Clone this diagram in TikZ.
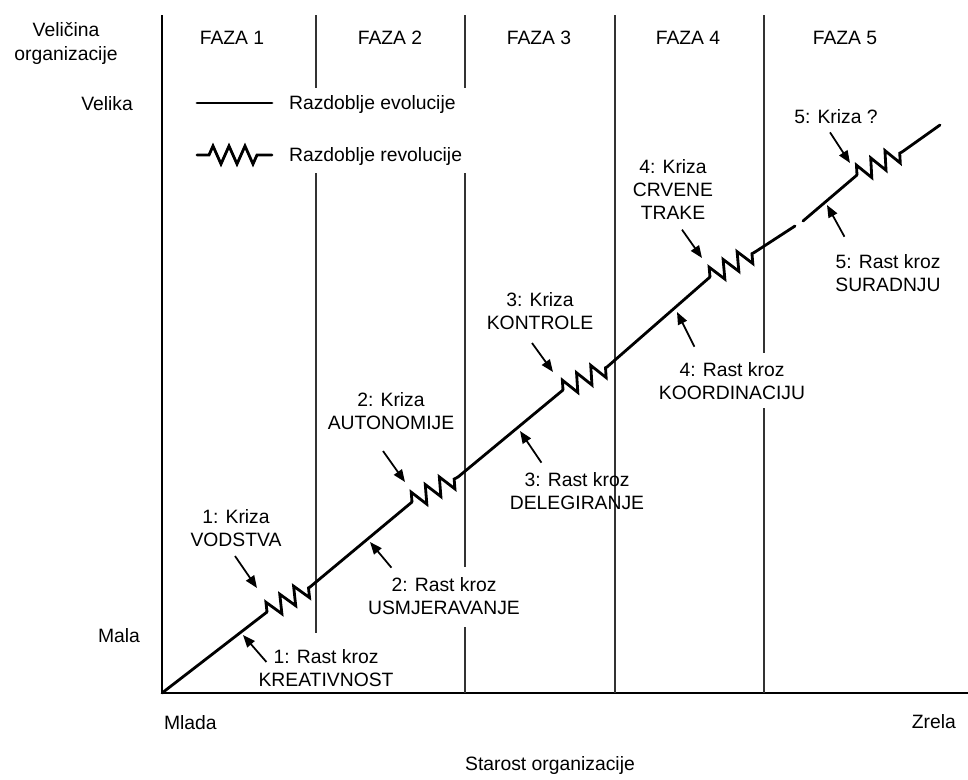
\documentclass[tikz,border=0pt]{standalone}
\usepackage{fontspec}
\setmainfont{Liberation Sans}
\usetikzlibrary{arrows.meta,positioning,decorations.pathmorphing}

\begin{document}
\begin{tikzpicture}[x=0.02cm,y=-0.02cm,
  lbl/.style={font=\fontsize{11}{13}\selectfont,inner sep=1pt,text height=8pt,text depth=2.5pt},
  evol/.style={line width=1.6pt,line cap=round},
  revol/.style={decorate,decoration={zigzag,segment length=0.32cm,amplitude=0.18cm}},
  faza/.style={line width=1pt,black!80},
  os/.style={line width=1.2pt},
  strel/.style={line width=1pt,-{Triangle[length=7pt,width=5.5pt]}}]%
\useasboundingbox (0,0) rectangle (968,779);%%
%%OSI
\draw[os] (162,15) -- (162,693) -- (968,693);%%
%%FAZE
\draw[faza] (316,15) -- (316,88) (316,173) -- (316,633);%%
\draw[faza] (465,15) -- (465,88) (465,173) -- (465,567) (465,627) -- (465,693);%%
\draw[faza] (615,15) -- (615,693);%%
\draw[faza] (764,15) -- (764,353) (764,408) -- (764,693);%%
\node[lbl] (faza1) at (232,40) {FAZA 1};%%
\node[lbl] (faza2) at (390,40) {FAZA 2};%%
\node[lbl] (faza3) at (539,40) {FAZA 3};%%
\node[lbl] (faza4) at (688,40) {FAZA 4};%%
\node[lbl] (faza5) at (845,40) {FAZA 5};%%
%%TEKST OSI
\node[lbl] (velicina) at (66,32) {Veličina};%%
\node[lbl,below=0.5pt of velicina] (organizacije) {organizacije};%%
\node[lbl,anchor=east] (velika) at (135,106) {Velika};%%
\node[lbl,anchor=east] (mala) at (142,638) {Mala};%%
\node[lbl,anchor=west] (mlada) at (162,725) {Mlada};%%
\node[lbl,anchor=east] (zrela) at (958,724) {Zrela};%%
\node[lbl] (starost) at (550,766) {Starost organizacije};%%
%%LEGENDA
\draw[evol] (197,103) -- (272,103);%%
\node[lbl,anchor=west] (evolucija) at (287,105) {Razdoblje evolucije};%%
\draw[evol,revol,decoration={pre length=0.24cm,post length=0.3cm}] (197,155) -- (272,155);%%
\node[lbl,anchor=west] (revolucija) at (287,157) {Razdoblje revolucije};%%
%%KRIVULJA
\coordinate (o) at (162,693);%%
\coordinate (z1s) at (267,612); \coordinate (z1e) at (310,587);%%
\coordinate (z2s) at (412,502); \coordinate (z2e) at (458,477);%%
\coordinate (z3s) at (563,390); \coordinate (z3e) at (607,367);%%
\coordinate (z4s) at (710,277); \coordinate (z4e) at (755,252);%%
\coordinate (prekid1) at (795,226); \coordinate (prekid2) at (803,221);%%
\coordinate (z5s) at (857,175); \coordinate (z5e) at (902,152);%%
\coordinate (kraj) at (940,125);%%
\draw[evol] (o) -- (z1s) (z1e) -- (z2s) (z2e) -- (z3s) (z3e) -- (z4s) (z4e) -- (prekid1) (prekid2) -- (z5s) (z5e) -- (kraj);%%
\draw[evol,revol] (z1s) -- (z1e);%%
\draw[evol,revol] (z2s) -- (z2e);%%
\draw[evol,revol] (z3s) -- (z3e);%%
\draw[evol,revol] (z4s) -- (z4e);%%
\draw[evol,revol] (z5s) -- (z5e);%%
%%KRIZE
\node[lbl] (kriza1) at (236,519) {1: Kriza};%%
\node[lbl,below=0pt of kriza1] (kriza1b) {VODSTVA};%%
\node[lbl] (kriza2) at (391,402) {2: Kriza};%%
\node[lbl,below=0pt of kriza2] (kriza2b) {AUTONOMIJE};%%
\node[lbl] (kriza3) at (540,302) {3: Kriza};%%
\node[lbl,below=0pt of kriza3] (kriza3b) {KONTROLE};%%
\node[lbl] (kriza4) at (673,169) {4: Kriza};%%
\node[lbl,below=0pt of kriza4] (kriza4b) {CRVENE};%%
\node[lbl,below=0pt of kriza4b] (kriza4c) {TRAKE};%%
\node[lbl] (kriza5) at (836,119) {5: Kriza ?};%%
\coordinate (c1) at (257,588); \coordinate (c2) at (405,482); \coordinate (c3) at (553,372);%%
\coordinate (c4) at (702,258); \coordinate (c5) at (850,163);%%
\draw[strel] ([shift={(-1,3)}]kriza1b.south) -- (c1);%%
\draw[strel] ([shift={(-8,15)}]kriza2b.south) -- (c2);%%
\draw[strel] ([shift={(-8,7)}]kriza3b.south) -- (c3);%%
\draw[strel] ([shift={(9,4)}]kriza4c.south) -- (c4);%%
\draw[strel] ([shift={(-6,2)}]kriza5.south) -- (c5);%%
%%RAST
\node[lbl] (rast1) at (326,659) {1: Rast kroz};%%
\node[lbl,below=0pt of rast1] (rast1b) {KREATIVNOST};%%
\node[lbl] (rast2) at (444,587) {2: Rast kroz};%%
\node[lbl,below=0pt of rast2] (rast2b) {USMJERAVANJE};%%
\node[lbl] (rast3) at (577,482) {3: Rast kroz};%%
\node[lbl,below=0pt of rast3] (rast3b) {DELEGIRANJE};%%
\node[lbl] (rast4) at (732,372) {4: Rast kroz};%%
\node[lbl,below=0pt of rast4] (rast4b) {KOORDINACIJU};%%
\node[lbl] (rast5) at (888,264) {5: Rast kroz};%%
\node[lbl,below=0pt of rast5] (rast5b) {SURADNJU};%%
\coordinate (g1) at (243,635); \coordinate (g2) at (370,542); \coordinate (g3) at (520,431);%%
\coordinate (g4) at (677,312); \coordinate (g5) at (827,205);%%
\draw[strel] ([shift={(-5,3)}]rast1.west) -- (g1);%%
\draw[strel] ([shift={(2,-8)}]rast2.north west) -- (g2);%%
\draw[strel] ([shift={(19,-8)}]rast3.north west) -- (g3);%%
\draw[strel] ([shift={(17,-14)}]rast4.north west) -- (g4);%%
\draw[strel] ([shift={(11,-16)}]rast5.north west) -- (g5);%%
\end{tikzpicture}
\end{document}
